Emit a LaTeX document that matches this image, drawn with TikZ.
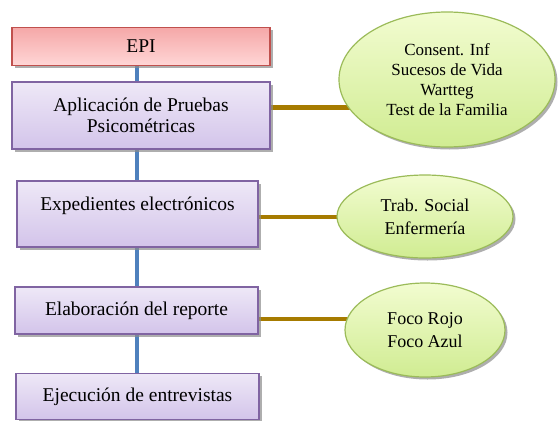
\documentclass[tikz,border=0pt]{standalone}
\usepackage{fontspec}
\setmainfont{Liberation Serif}
\usetikzlibrary{shapes.geometric, shadows, backgrounds, calc, positioning}
\definecolor{epiborde}{RGB}{192,80,77}
\definecolor{epiarriba}{RGB}{245,168,168}
\definecolor{epiabajo}{RGB}{255,214,214}
\definecolor{pasoborde}{RGB}{128,100,162}
\definecolor{pasoarriba}{RGB}{238,232,247}
\definecolor{pasoabajo}{RGB}{211,196,234}
\definecolor{notaborde}{RGB}{155,187,89}
\definecolor{notaarriba}{RGB}{242,252,208}
\definecolor{notaabajo}{RGB}{208,236,146}
\definecolor{ejeazul}{RGB}{79,129,189}
\definecolor{ramacafe}{RGB}{166,123,0}
\tikzset{
	caja/.style={draw=pasoborde, line width=1.2pt, top color=pasoarriba, bottom color=pasoabajo, align=center, inner sep=2pt,
		drop shadow={shadow xshift=2.5pt, shadow yshift=-2.5pt, fill=black!45, opacity=0.7},
		font=\fontsize{19.5}{21.5}\selectfont},
	cajaepi/.style={caja, draw=epiborde, top color=epiarriba, bottom color=epiabajo},
	nota/.style={ellipse, draw=notaborde, line width=1.2pt, top color=notaarriba, bottom color=notaabajo, align=center, inner sep=0pt,
		drop shadow={shadow xshift=2.5pt, shadow yshift=-2.5pt, fill=black!45, opacity=0.7},
		font=\fontsize{18}{23}\selectfont},
	eje/.style={draw=ejeazul, line width=4.5pt},
	rama/.style={draw=ramacafe, line width=4.5pt}
}
\begin{document}
\begin{tikzpicture}[x=1pt, y=-1pt]
	\useasboundingbox (0,0) rectangle (558,421);
	\node[cajaepi, minimum width=258pt, minimum height=38pt] (epi) at (141,46.5) {EPI};
	\node[caja, minimum width=258pt, minimum height=67pt] (aplicacion) at (141,115.5) {Aplicación de Pruebas\\Psicométricas};
	\node[caja, minimum width=241pt, minimum height=66pt] (expedientes) at (137.5,214) {Expedientes electrónicos\\ \mbox{}};
	\node[caja, minimum width=243pt, minimum height=47pt] (reporte) at (136.5,310.5) {Elaboración del reporte};
	\node[caja, minimum width=243pt, minimum height=46pt] (entrevistas) at (137.5,396.5) {Ejecución de entrevistas};
	\node[nota, minimum width=216pt, minimum height=135pt, font=\fontsize{17}{20}\selectfont] (pruebas) at (447,79.5) {Consent. Inf\\Sucesos de Vida\\Wartteg\\Test de la Familia};
	\node[nota, minimum width=176pt, minimum height=83pt] (areas) at (425,216.5) {Trab. Social\\Enfermería};
	\node[nota, minimum width=160pt, minimum height=94pt] (focos) at (425,330) {Foco Rojo\\Foco Azul};
	\coordinate (espina) at (137,0);
	\coordinate (rama1) at (0,107.5);
	\coordinate (rama2) at (0,217);
	\coordinate (rama3) at (0,319);
	\begin{pgfonlayer}{background}
		\draw[eje] (epi.south -| espina) -- (aplicacion.north -| espina);
		\draw[eje] (aplicacion.south -| espina) -- (expedientes.north -| espina);
		\draw[eje] (expedientes.south -| espina) -- (reporte.north -| espina);
		\draw[eje] (reporte.south -| espina) -- (entrevistas.north -| espina);
		\draw[rama] (aplicacion.east |- rama1) -- (pruebas.center |- rama1);
		\draw[rama] (expedientes.east |- rama2) -- (areas.center |- rama2);
		\draw[rama] (reporte.east |- rama3) -- (focos.center |- rama3);
	\end{pgfonlayer}
\end{tikzpicture}
\end{document}
